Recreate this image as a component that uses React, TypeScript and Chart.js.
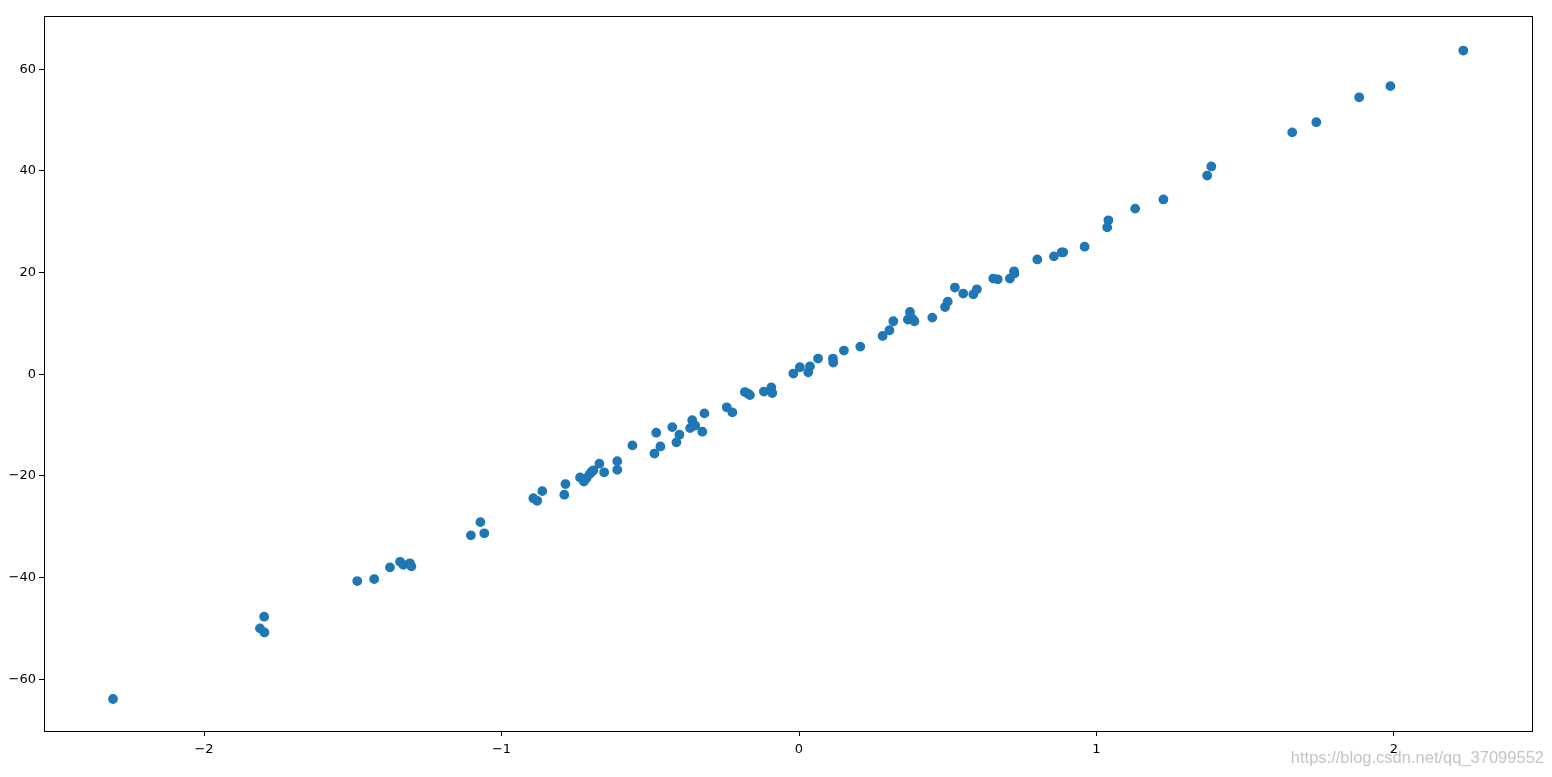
import React, { useEffect, useRef } from "react";
import { Chart, registerables } from "chart.js";

Chart.register(...registerables);

const xValues: number[] = [
  -2.306, -1.798, -1.812, -1.797, -1.485, -1.428, -1.375, -1.341, -1.33, -1.308, -1.303,
  -1.103, -1.071, -1.058, -0.893, -0.88, -0.863, -0.789, -0.785, -0.736, -0.723, -0.714,
  -0.703, -0.697, -0.691, -0.671, -0.655, -0.611, -0.611, -0.56, -0.486, -0.48, -0.466,
  -0.426, -0.412, -0.402, -0.366, -0.359, -0.349, -0.325, -0.318, -0.243, -0.224, -0.182,
  -0.172, -0.165, -0.118, -0.093, -0.09,
  -0.019, 0.003, 0.031, 0.037, 0.064, 0.114, 0.115, 0.151, 0.206, 0.281, 0.304, 0.317,
  0.366, 0.373, 0.388, 0.382, 0.448, 0.491, 0.5, 0.524, 0.552, 0.586, 0.598, 0.653, 0.668,
  0.709, 0.723, 0.724,
  0.801, 0.857, 0.883, 0.888, 0.96, 1.036, 1.04, 1.13, 1.225, 1.372, 1.386, 1.658, 1.739,
  1.883, 1.988, 2.233,
];

const yValues: number[] = [
  -63.9, -47.7, -50.0, -50.8, -40.7, -40.3, -38.0, -36.9, -37.5, -37.2, -37.8,
  -31.7, -29.1, -31.3, -24.4, -24.9, -23.0, -23.7, -21.6, -20.3, -21.1, -20.4,
  -19.6, -19.2, -18.9, -17.6, -19.3, -17.1, -18.8, -14.0, -15.6, -11.5, -14.2,
  -10.4, -13.4, -11.9, -10.6, -9.05, -10.1, -11.3, -7.7, -6.5, -7.5, -3.5,
  -3.8, -4.1, -3.4, -2.6, -3.7,
  0.14, 1.38, 0.39, 1.57, 3.09, 3.09, 2.3, 4.66, 5.44, 7.54, 8.66, 10.43,
  10.76, 12.26, 10.43, 10.9, 11.15, 13.24, 14.3, 17.06, 15.88, 15.74, 16.72, 18.83, 18.69,
  18.83, 20.26, 19.8,
  22.6, 23.2, 24.0, 24.0, 25.1, 28.9, 30.3, 32.6, 34.4, 39.1, 40.9, 47.6, 49.6,
  54.5, 56.7, 63.7,
];

const xTicks: number[] = [-2, -1, 0, 1, 2];
const yTicks: number[] = [-60, -40, -20, 0, 20, 40, 60];

const minus = (v: number) => String(v).replace("-", "\u2212");

const framePlugin = {
  id: "frame",
  afterDraw(chart: any) {
    const { ctx, chartArea } = chart;
    ctx.save();
    ctx.strokeStyle = "#000";
    ctx.lineWidth = 1;
    ctx.strokeRect(
      Math.round(chartArea.left) + 0.5,
      Math.round(chartArea.top) + 0.5,
      Math.round(chartArea.right - chartArea.left),
      Math.round(chartArea.bottom - chartArea.top)
    );
    ctx.restore();
  },
};

export default function App() {
  const ref = useRef<HTMLCanvasElement | null>(null);

  useEffect(() => {
    if (!ref.current) return;
    const points = xValues.map((x, i) => ({ x, y: yValues[i] }));
    const chart = new Chart(ref.current, {
      type: "scatter",
      data: {
        datasets: [
          {
            data: points,
            backgroundColor: "#1f77b4",
            borderColor: "#1f77b4",
            borderWidth: 1.4,
            pointRadius: 4.2,
            pointHoverRadius: 4.2,
          },
        ],
      },
      options: {
        animation: false,
        responsive: false,
        maintainAspectRatio: false,
        events: [],
        layout: { padding: { left: 0, top: 16, right: 20, bottom: 0 } },
        plugins: { legend: { display: false }, tooltip: { enabled: false } },
        scales: {
          x: {
            type: "linear",
            min: -2.538,
            max: 2.464,
            afterFit: (s: any) => {
              s.height = 46;
            },
            afterBuildTicks: (s: any) => {
              s.ticks = xTicks.map((v) => ({ value: v }));
            },
            grid: {
              display: true,
              drawOnChartArea: false,
              drawTicks: true,
              tickLength: 5,
              color: "#000",
            },
            border: { display: true, color: "#000", width: 1 },
            ticks: {
              color: "#000",
              padding: 6,
              font: { family: "DejaVu Sans", size: 13 },
              callback: (v: any) => minus(Number(v)),
            },
          },
          y: {
            type: "linear",
            min: -70.2,
            max: 70.5,
            afterFit: (s: any) => {
              s.width = 44;
            },
            afterBuildTicks: (s: any) => {
              s.ticks = yTicks.map((v) => ({ value: v }));
            },
            grid: {
              display: true,
              drawOnChartArea: false,
              drawTicks: true,
              tickLength: 5,
              color: "#000",
            },
            border: { display: true, color: "#000", width: 1 },
            ticks: {
              color: "#000",
              padding: 3,
              font: { family: "DejaVu Sans", size: 13 },
              callback: (v: any) => minus(Number(v)),
            },
          },
        },
      },
      plugins: [framePlugin],
    });
    return () => chart.destroy();
  }, []);

  return (
    <div
      style={{
        position: "fixed",
        left: 0,
        top: 0,
        width: 1552,
        height: 777,
        background: "#fff",
      }}
    >
      <canvas ref={ref} width={1552} height={777} style={{ display: "block" }} />
      <div
        style={{
          position: "absolute",
          right: 8,
          top: 748,
          fontFamily: "Liberation Sans, Arial, sans-serif",
          fontSize: 16.5,
          color: "rgba(190,190,190,0.9)",
          whiteSpace: "nowrap",
        }}
      >
        https://blog.csdn.net/qq_37099552
      </div>
    </div>
  );
}
